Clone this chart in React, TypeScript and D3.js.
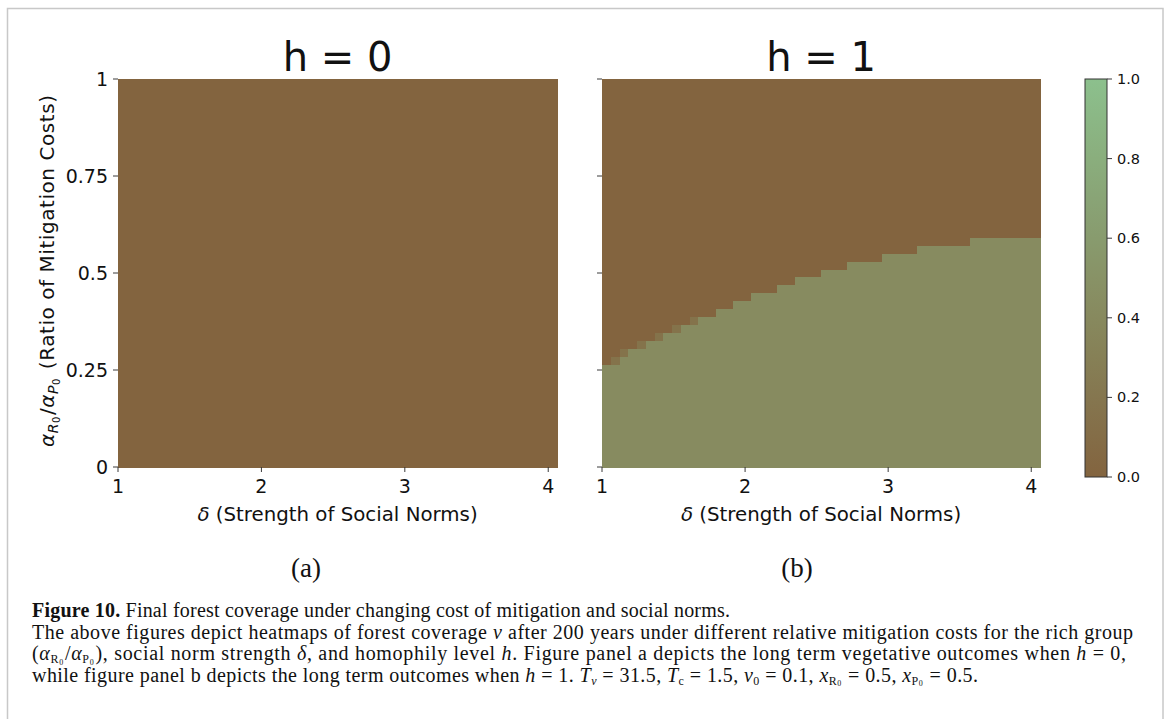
import * as d3 from 'd3';

// simulation sweep: 50 values of delta (1..4) x 49 values of the cost ratio (0..1)
const nDelta = 50;
const nRatio = 49;

const panelTitles = ['h = 0', 'h = 1'];
const panelTags = ['(a)', '(b)'];

// number of rows (counted from the bottom) that keep their forest, per delta column
const forestRowsH0 = [
  0, 0, 0, 0, 0, 0, 0, 0, 0, 0, 0, 0, 0, 0, 0, 0, 0, 0, 0, 0, 0, 0, 0, 0, 0,
  0, 0, 0, 0, 0, 0, 0, 0, 0, 0, 0, 0, 0, 0, 0, 0, 0, 0, 0, 0, 0, 0, 0, 0, 0,
];
const forestRowsH1 = [
  13, 13, 14, 15, 15, 16, 16, 17, 17, 18, 18, 19, 19, 20, 20, 21, 21, 22, 22, 22, 23, 23, 24, 24, 24,
  25, 25, 25, 26, 26, 26, 26, 27, 27, 27, 27, 28, 28, 28, 28, 28, 28, 29, 29, 29, 29, 29, 29, 29, 29,
];
// cells on the boundary that only partly recover: [column, row]
const partialCellsH0: number[][] = [];
const partialCellsH1 = [[1, 13], [2, 14], [4, 15], [6, 16], [8, 17], [10, 18]];

const bareLevel = 0;
const partialLevel = 0.16;
const forestLevel = 0.42;

const xTicks = [1, 2, 3, 4];
const yTicks = [0, 0.25, 0.5, 0.75, 1];
const yTickLabels = ['0', '0.25', '0.5', '0.75', '1'];
const cbarTicks = [0, 0.2, 0.4, 0.6, 0.8, 1];

const color = d3.scaleLinear<string>().domain([0, 1]).range(['#83643f', '#8cc08d']).interpolate(d3.interpolateRgb);

const sans = 'DejaVu Sans, sans-serif';
const serif = 'Liberation Serif, serif';
const tickColor = '#3a3a3a';

const top = 79;
const bottom = 467;

function buildGrid(rows: number[], partial: number[][]) {
  const cells: { c: number; r: number; v: number }[] = [];
  rows.forEach((n, c) => {
    for (let r = 0; r < nRatio; r++) cells.push({ c, r, v: r < n ? forestLevel : bareLevel });
  });
  partial.forEach(([c, r]) => {
    cells[c * nRatio + r].v = partialLevel;
  });
  return cells;
}

interface PanelProps {
  left: number
  right: number
  title: string
  tag: string
  tagX: number
  rows: number[]
  partial: number[][]
  yLabels: boolean
}

const Panel = (props: PanelProps) => {
  const { left, right } = props;
  const cx = (left + right) / 2;
  const col = d3.scaleBand<number>().domain(d3.range(nDelta)).range([left, right]);
  const row = d3.scaleBand<number>().domain(d3.range(nRatio)).range([bottom, top]);
  // tick axis: cell i sits at delta = 1 + 3i/49, so the last cell ends a bit past 4
  const x = d3.scaleLinear().domain([1, 1 + (3 * nDelta) / (nDelta - 1)]).range([left, right]);
  const y = d3.scaleLinear().domain([0, 1]).range([bottom, top]);
  const cells = buildGrid(props.rows, props.partial);

  return (
    <g>
      <text x={cx} y={71} textAnchor="middle" fontFamily={sans} fontSize={40} fill="#111">{props.title}</text>
      <g shapeRendering="crispEdges">
        {cells.map((d, i) => (
          <rect key={i} x={col(d.c)} y={row(d.r)} width={col.bandwidth() + 0.5} height={row.bandwidth() + 0.5} fill={color(d.v)} />
        ))}
      </g>
      {yTicks.map((t, i) => (
        <g key={'y' + i}>
          <line x1={left - 5} x2={left} y1={y(t)} y2={y(t)} stroke={tickColor} strokeWidth={1} />
          {props.yLabels && (
            <text x={left - 10} y={y(t)} dy="0.35em" textAnchor="end" fontFamily={sans} fontSize={19} fill="#111">{yTickLabels[i]}</text>
          )}
        </g>
      ))}
      {xTicks.map((t, i) => (
        <g key={'x' + i}>
          <line x1={x(t)} x2={x(t)} y1={bottom} y2={bottom + 5} stroke={tickColor} strokeWidth={1} />
          <text x={x(t)} y={493} textAnchor="middle" fontFamily={sans} fontSize={19} fill="#111">{t}</text>
        </g>
      ))}
      <text x={cx} y={521} textAnchor="middle" fontFamily={sans} fontSize={19.8} fill="#111">
        <tspan fontStyle="italic">δ</tspan> (Strength of Social Norms)
      </text>
      <text x={props.tagX} y={577} textAnchor="middle" fontFamily={serif} fontSize={27} fill="#111">{props.tag}</text>
    </g>
  );
};

const Colorbar = () => {
  const x0 = 1085, w = 22, y0 = 79, y1 = 477;
  const s = d3.scaleLinear().domain([0, 1]).range([y1, y0]);
  const stops = d3.range(0, 1.0001, 0.1);
  return (
    <g>
      <defs>
        <linearGradient id="cbar" x1="0" y1="1" x2="0" y2="0">
          {stops.map((t, i) => <stop key={i} offset={t} stopColor={color(t)} />)}
        </linearGradient>
      </defs>
      <rect x={x0} y={y0} width={w} height={y1 - y0} fill="url(#cbar)" stroke="#333" strokeWidth={1} />
      {cbarTicks.map((t, i) => (
        <g key={i}>
          <line x1={x0 + w} x2={x0 + w + 5} y1={s(t)} y2={s(t)} stroke={tickColor} strokeWidth={1} />
          <text x={x0 + w + 10} y={s(t)} dy="0.35em" fontFamily={sans} fontSize={14.5} fill="#111">{t.toFixed(1)}</text>
        </g>
      ))}
    </g>
  );
};

const Caption = () => {
  const lx = 32;
  return (
    <g fontFamily={serif} fontSize={20} fill="#111">
      <text x={lx} y={617} textLength={698} lengthAdjust="spacing">
        <tspan fontWeight="bold">Figure 10.</tspan> Final forest coverage under changing cost of mitigation and social norms.
      </text>
      <text x={lx} y={638.5} textLength={1101} lengthAdjust="spacing">
        The above figures depict heatmaps of forest coverage <tspan fontStyle="italic">v</tspan> after 200 years under different relative mitigation costs for the rich group
      </text>
      <text x={lx} y={660} textLength={1094} lengthAdjust="spacing">
        (<tspan fontStyle="italic">α</tspan><tspan fontSize={12} dy={3}>R</tspan><tspan fontSize={8} dy={1.5}>0</tspan>
        <tspan dy={-4.5} dx={1}>/</tspan><tspan fontStyle="italic">α</tspan><tspan fontSize={12} dy={3}>P</tspan><tspan fontSize={8} dy={1.5}>0</tspan>
        <tspan dy={-4.5} dx={1}>), social norm strength </tspan><tspan fontStyle="italic">δ</tspan>, and homophily level <tspan fontStyle="italic">h</tspan>. Figure panel a depicts the long term vegetative outcomes when <tspan fontStyle="italic">h</tspan> = 0,
      </text>
      <text x={lx} y={681.5} textLength={946} lengthAdjust="spacing">
        while figure panel b depicts the long term outcomes when <tspan fontStyle="italic">h</tspan> = 1. <tspan fontStyle="italic">T</tspan><tspan fontSize={12} dy={3} fontStyle="italic">v</tspan>
        <tspan dy={-3}> = 31.5, </tspan><tspan fontStyle="italic">T</tspan><tspan fontSize={12} dy={3}>c</tspan>
        <tspan dy={-3}> = 1.5, </tspan><tspan fontStyle="italic">v</tspan><tspan fontSize={12} dy={3}>0</tspan>
        <tspan dy={-3}> = 0.1, </tspan><tspan fontStyle="italic">x</tspan><tspan fontSize={12} dy={3}>R</tspan><tspan fontSize={8} dy={1.5}>0</tspan>
        <tspan dy={-4.5} dx={1}> = 0.5, </tspan><tspan fontStyle="italic">x</tspan><tspan fontSize={12} dy={3}>P</tspan><tspan fontSize={8} dy={1.5}>0</tspan>
        <tspan dy={-4.5} dx={1}> = 0.5.</tspan>
      </text>
    </g>
  );
};

const App = () => {
  return (
    <svg width={1167} height={719} style={{ position: 'absolute', left: 0, top: 0, background: '#fff' }}>
      <rect x={7.5} y={8.5} width={1155.5} height={720} fill="#fff" stroke="#c8c8c8" strokeWidth={1.5} />
      <Panel left={118} right={557} title={panelTitles[0]} tag={panelTags[0]} tagX={306}
        rows={forestRowsH0} partial={partialCellsH0} yLabels={true} />
      <Panel left={602} right={1040} title={panelTitles[1]} tag={panelTags[1]} tagX={797}
        rows={forestRowsH1} partial={partialCellsH1} yLabels={false} />
      <text transform="translate(54,271) rotate(-90)" textAnchor="middle" fontFamily={sans} fontSize={20} fill="#111"
        textLength={352} lengthAdjust="spacing">
        <tspan fontStyle="italic">α</tspan><tspan fontSize={14} dy={4} fontStyle="italic">R</tspan><tspan fontSize={10} dy={2}>0</tspan>
        <tspan dy={-6} dx={1}>/</tspan><tspan fontStyle="italic">α</tspan><tspan fontSize={14} dy={4} fontStyle="italic">P</tspan><tspan fontSize={10} dy={2}>0</tspan>
        <tspan dy={-6} dx={2}> (Ratio of Mitigation Costs)</tspan>
      </text>
      <Colorbar />
      <Caption />
    </svg>
  );
};

export default App;
